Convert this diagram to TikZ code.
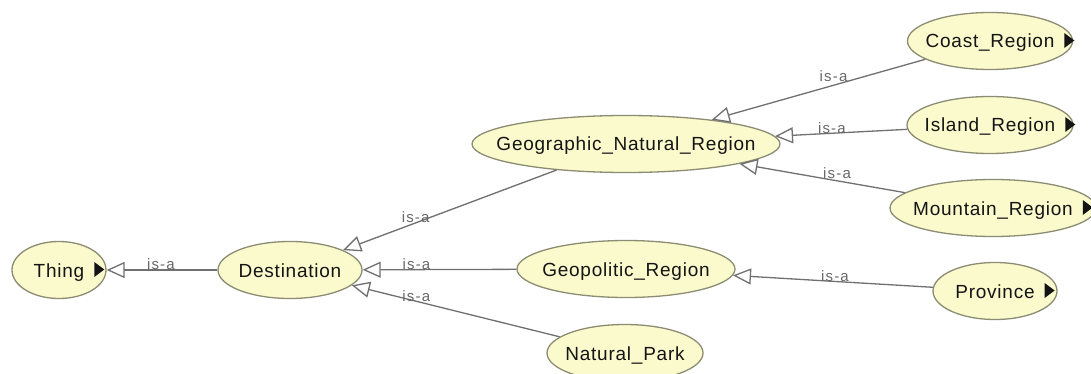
\documentclass[tikz,border=0pt]{standalone}
\usepackage{fontspec}
\setmainfont{Liberation Sans}
\newfontfamily\classfont[LetterSpace=4]{Liberation Sans}
\newfontfamily\relfont[LetterSpace=8]{Liberation Sans}
\usetikzlibrary{shapes.geometric,arrows.meta}

\definecolor{classfill}{RGB}{250,250,205}
\definecolor{classline}{RGB}{140,140,115}
\definecolor{classtext}{RGB}{20,20,20}
\definecolor{edgeline}{RGB}{112,112,112}
\definecolor{relgray}{RGB}{105,105,105}

% small black triangle after the names of classes that have hidden subclasses
\newcommand{\moremark}{\rlap{\hspace{10pt}\tikz[baseline=0pt]\fill[classtext] (0pt,0pt) -- (0pt,15pt) -- (10pt,7.5pt) -- cycle;}}
% class name centred without widening the ellipse
\newcommand{\cls}[1]{\makebox[0pt]{#1}}

\tikzset{
  owlclass/.style={ellipse, draw=classline, line width=1.3pt, fill=classfill,
    inner sep=0pt, minimum height=57pt, text height=14pt, text depth=0pt,
    text=classtext, font=\classfont\fontsize{19}{19}\selectfont},
  isa/.style={draw=edgeline, line width=1.3pt,
    -{Triangle[open,length=18pt,width=16pt]}},
  isalabel/.style={anchor=base, inner sep=0pt, text=relgray,
    font=\relfont\fontsize{15}{15}\selectfont},
}

\begin{document}
\begin{tikzpicture}[x=1pt,y=-1pt]
\useasboundingbox (0,0) rectangle (1091,374);
\fill[white] (0,0) rectangle (1091,374);

% classes
\node[owlclass, minimum width=94pt]  (thing)    at (59,270)  {\cls{Thing\moremark}};
\node[owlclass, minimum width=144pt] (dest)     at (290,270) {\cls{Destination}};
\node[owlclass, minimum width=308pt] (gnr)      at (626,144) {\cls{Geographic\_Natural\_Region}};
\node[owlclass, minimum width=218pt] (geop)     at (626,269) {\cls{Geopolitic\_Region}};
\node[owlclass, minimum width=156pt] (park)     at (625,353) {\cls{Natural\_Park}};
\node[owlclass, minimum width=165pt] (coast)    at (990,41)  {\cls{Coast\_Region\moremark}};
\node[owlclass, minimum width=166pt] (island)   at (990,125) {\cls{Island\_Region\moremark}};
\node[owlclass, minimum width=206pt] (mountain) at (993,208) {\cls{Mountain\_Region\moremark}};
\node[owlclass, minimum width=124pt] (province) at (995,291) {\cls{Province\moremark}};

% subclass links
\draw[isa] (dest)     -- node[isalabel, pos=0.51, yshift=1pt] {is-a} (thing);
\draw[isa] (gnr)      -- node[isalabel, pos=0.66] {is-a} (dest);
\draw[isa] (geop)     -- node[isalabel, pos=0.65] {is-a} (dest);
\draw[isa] (park)     -- node[isalabel, pos=0.69] {is-a} (dest);
\draw[isa] (coast)    -- node[isalabel, pos=0.43, yshift=4pt] {is-a} (gnr);
\draw[isa] (island)   -- node[isalabel, pos=0.57] {is-a} (gnr);
\draw[isa] (mountain) -- node[isalabel, pos=0.41, yshift=2pt] {is-a} (gnr);
\draw[isa] (province) -- node[isalabel, pos=0.49] {is-a} (geop);
\end{tikzpicture}
\end{document}
